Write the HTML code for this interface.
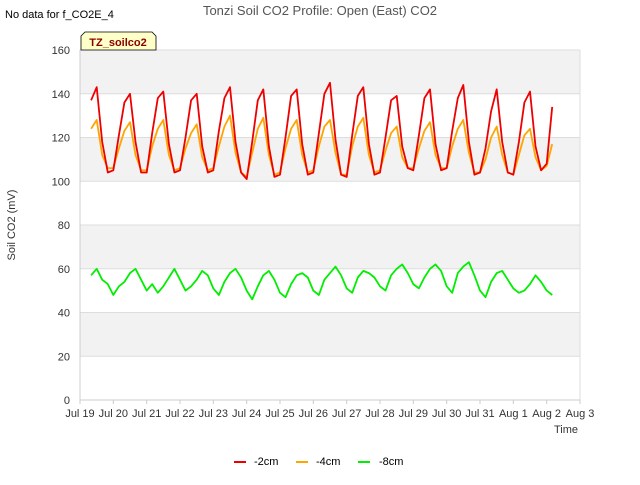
<!DOCTYPE html>
<html><head><meta charset="utf-8"><style>
body{margin:0;background:#fff;font-family:"Liberation Sans","DejaVu Sans",sans-serif}
</style></head><body>
<svg id="chart" width="640" height="480" xmlns="http://www.w3.org/2000/svg" font-family="Liberation Sans, DejaVu Sans, sans-serif">
<rect width="640" height="480" fill="#fff"/>
<text x="5" y="18" font-size="11" fill="#000">No data for f_CO2E_4</text>
<text x="320" y="15" font-size="13" fill="#555" text-anchor="middle">Tonzi Soil CO2 Profile: Open (East) CO2</text>
<g id="bands"></g>
<g id="grid"></g>
<g id="yticks"></g>
<g id="xticks"></g>
<g id="series"></g>
<text x="15" y="225" font-size="11" fill="#333" text-anchor="middle" transform="rotate(-90 15 225)">Soil CO2 (mV)</text>
<text x="578" y="433" font-size="11" fill="#333" text-anchor="end">Time</text>
<g>
<path d="M81,50 L81,36 L85,32 L152,32 L156,36 L156,50 Z" fill="#ffffc8" stroke="#000" stroke-width="0.8"/>
<text x="118" y="46" font-size="11" font-weight="bold" fill="#8b0000" text-anchor="middle">TZ_soilco2</text>
</g>
<g>
<g><line x1="234" y1="462" x2="246" y2="462" stroke="#e00" stroke-width="2"/><text x="254" y="465" font-size="11" fill="#000">-2cm</text></g>
<g><line x1="296" y1="462" x2="308" y2="462" stroke="#ffa500" stroke-width="2"/><text x="316" y="465" font-size="11" fill="#000">-4cm</text></g>
<g><line x1="358" y1="462" x2="370" y2="462" stroke="#0e0" stroke-width="2"/><text x="379" y="465" font-size="11" fill="#000">-8cm</text></g>
</g>
</svg>
<script>
const startDay = 19.333, stepDay = 1/6;
const red = [137,143,118,104,
105,121,136,140,118,104, 104,122,138,141,117,104, 105,120,137,140,116,104,
105,123,138,143,118,104, 101,118,137,142,116,102, 103,120,139,142,117,103,
104,122,140,145,119,103, 102,121,139,143,117,103, 104,120,137,139,116,106,
105,121,138,142,117,105, 106,123,138,144,118,103, 104,115,132,142,118,104,
103,118,136,141,116,105, 108,134];
const orange = [124,128,112,106,
106,115,123,127,112,105, 105,116,124,128,112,105, 106,115,122,126,111,105,
106,116,125,130,113,104, 102,113,124,129,112,103, 104,115,124,128,112,104,
105,116,125,128,113,103, 103,116,125,129,112,104, 105,114,122,125,111,106,
106,115,123,127,112,106, 106,116,124,128,113,104, 104,110,120,125,112,104,
103,112,121,124,111,105, 107,117];
const green = [57,60,55,53,48,52, 54,58,60,55,50,53, 49,52,56,60,55,50, 52,55,59,57,51,48,
54,58,60,56,50,46, 52,57,59,55,49,47, 53,57,58,56,50,48, 55,58,61,57,51,49,
56,59,58,56,52,50, 57,60,62,58,53,51, 56,60,62,59,52,49, 58,61,63,57,50,47,
54,58,59,55,51,49, 50,53,57,54,50,48];
const yTicks = [0,20,40,60,80,100,120,140,160];
const xTickLabels = ["Jul 19","Jul 20","Jul 21","Jul 22","Jul 23","Jul 24","Jul 25","Jul 26","Jul 27","Jul 28","Jul 29","Jul 30","Jul 31","Aug 1","Aug 2","Aug 3"];
const xTickDays = [19,20,21,22,23,24,25,26,27,28,29,30,31,32,33,34];

const L=80,R=580,T=50,B=400,yMin=0,yMax=160,xMin=19,xMax=34;
const ys=v=>B-(v-yMin)/(yMax-yMin)*(B-T);
const xs=d=>L+(d-xMin)/(xMax-xMin)*(R-L);
const NS="http://www.w3.org/2000/svg";
function mk(tag,attrs,parent){const e=document.createElementNS(NS,tag);for(const k in attrs)e.setAttribute(k,attrs[k]);parent.appendChild(e);return e;}
const bands=document.getElementById('bands'),grid=document.getElementById('grid'),yt=document.getElementById('yticks'),xt=document.getElementById('xticks'),ser=document.getElementById('series');
mk('rect',{x:L,y:T,width:R-L,height:B-T,fill:'#fff'},bands);
for(let i=0;i<yTicks.length-1;i++){
  if(i%2===1){const r=mk('rect',{x:L,y:ys(yTicks[i+1]),width:R-L,height:ys(yTicks[i])-ys(yTicks[i+1]),fill:'#f2f2f2'},bands);
  
  }
}
yTicks.forEach(v=>{
  const l=mk('line',{x1:L,x2:R,y1:ys(v),y2:ys(v),stroke:'#ddd','stroke-width':1},grid);
  
  
  const t=mk('text',{x:L-10,y:ys(v)+4,'font-size':11,fill:'#333','text-anchor':'end'},yt);
  
  
  t.textContent=v;
});
mk('line',{x1:L,x2:L,y1:T,y2:B,stroke:'#ccc'},grid);
mk('line',{x1:R,x2:R,y1:T,y2:B,stroke:'#ddd'},grid);
mk('line',{x1:L,x2:R,y1:B,y2:B,stroke:'#ccc'},grid);
xTickDays.forEach((d,i)=>{
  mk('line',{x1:xs(d),x2:xs(d),y1:B,y2:B+4,stroke:'#ccc'},xt);
  const t=mk('text',{x:xs(d),y:B+17,'font-size':11,fill:'#333','text-anchor':'middle'},xt);
  
  
  t.textContent=xTickLabels[i];
});
function line(vals,color,name){
  const pts=vals.map((v,i)=>xs(startDay+i*stepDay).toFixed(1)+','+ys(v).toFixed(1)).join(' ');
  const p=mk('polyline',{points:pts,fill:'none',stroke:color,'stroke-width':1.8,'stroke-linejoin':'round'},ser);
  
  
}
line(green,'#00ee00','series-8cm');
line(orange,'#ffa500','series-4cm');
line(red,'#ee0000','series-2cm');
</script>
</body></html>
